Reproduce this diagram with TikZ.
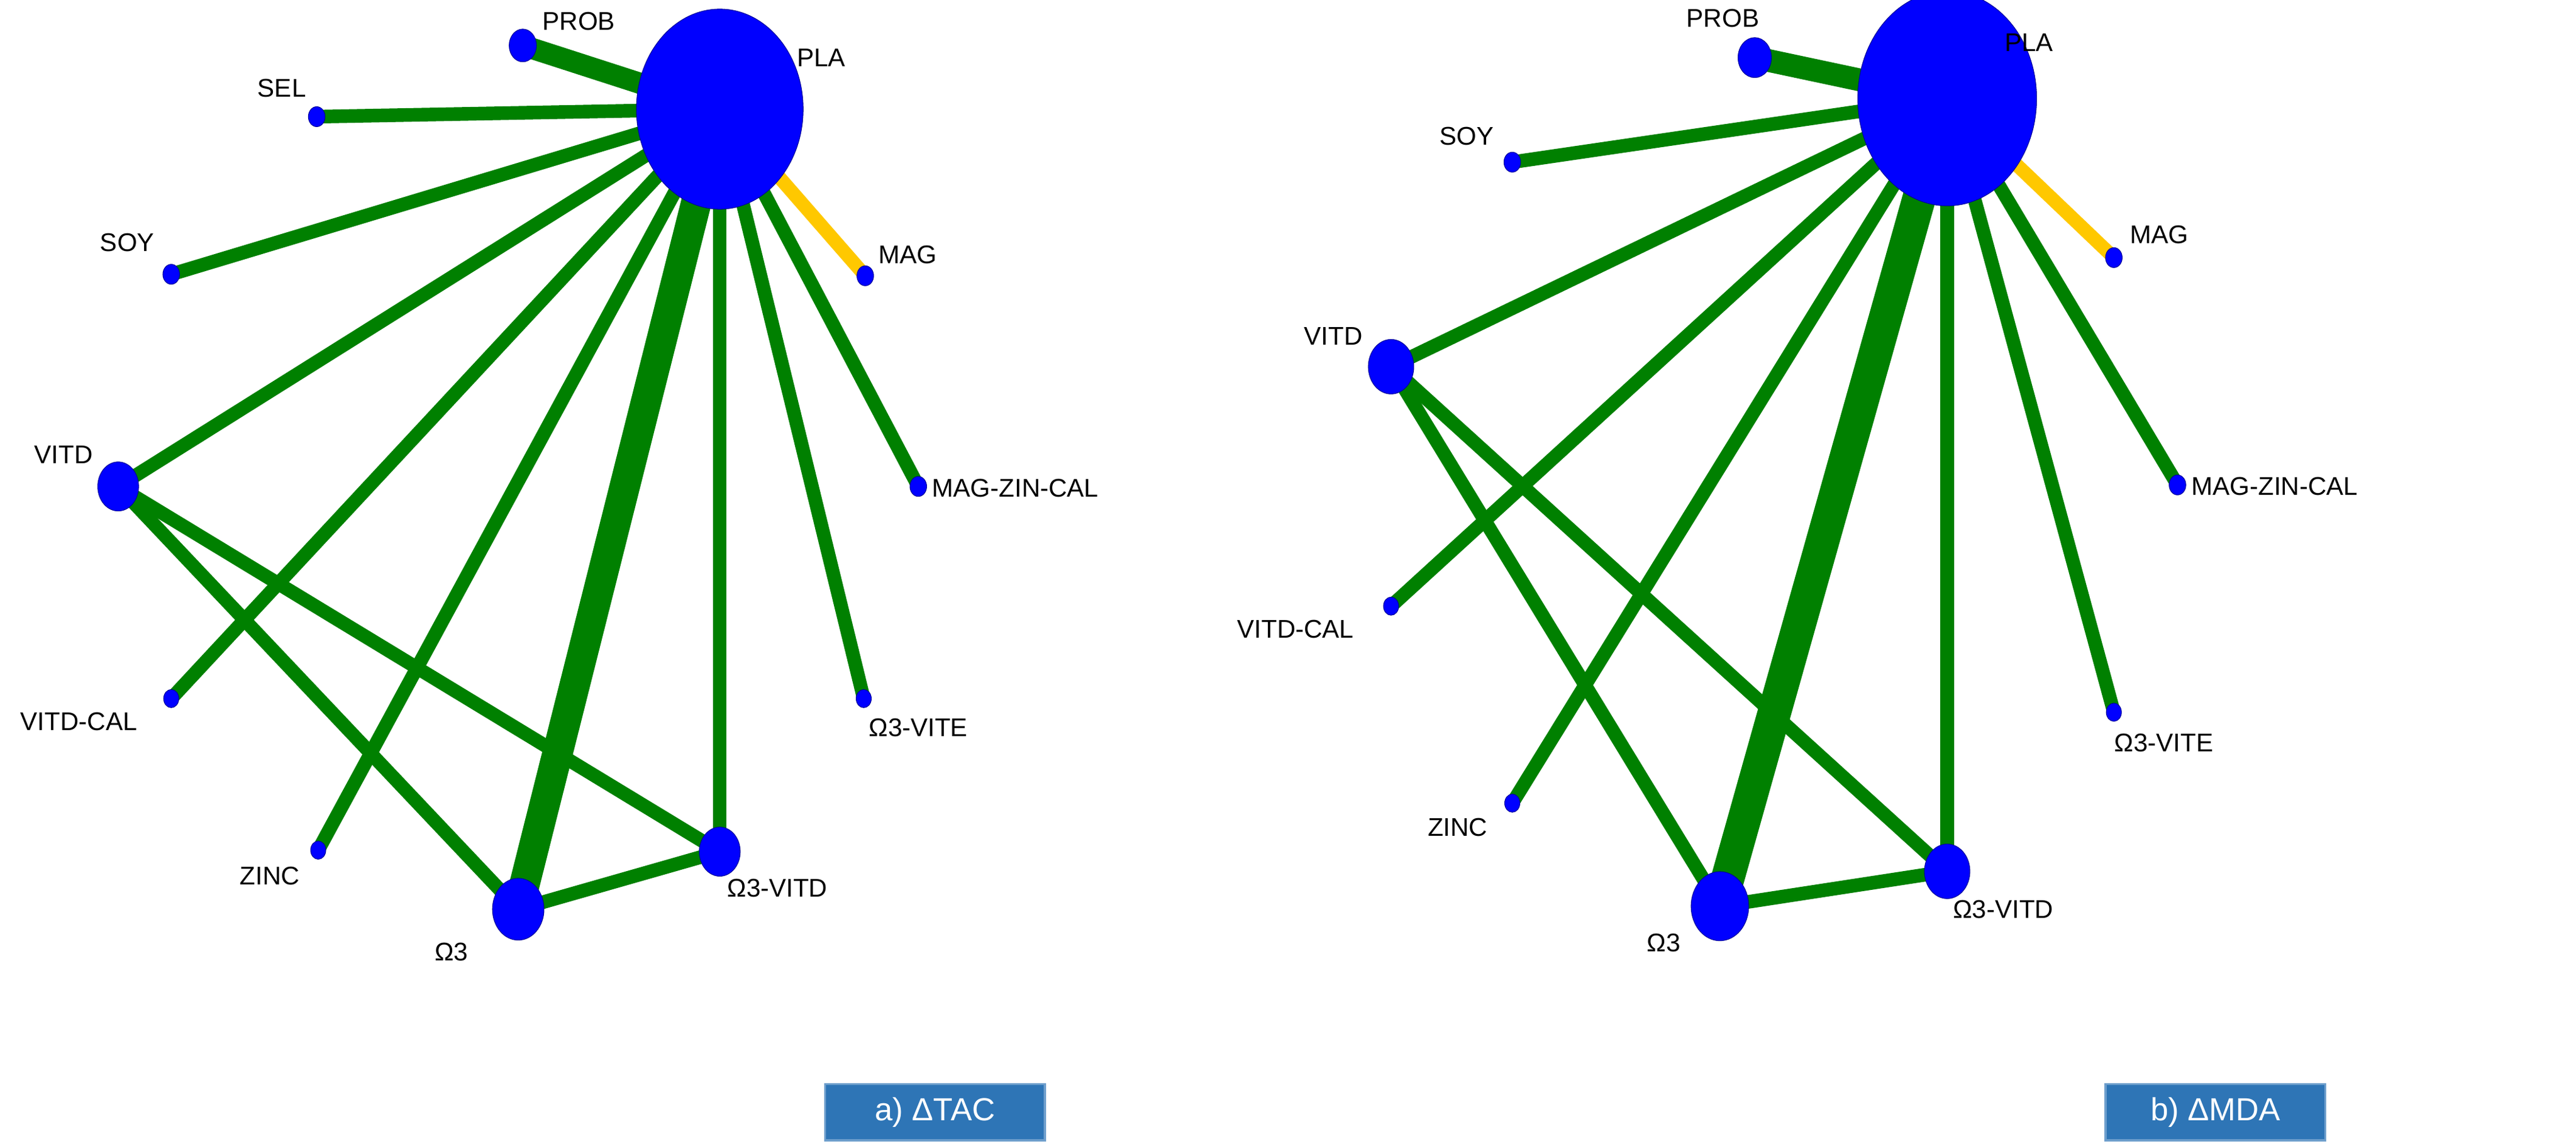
\documentclass[tikz,border=0pt]{standalone}
\usepackage{fontspec}
\setmainfont{Liberation Sans}
\usetikzlibrary{shapes.geometric}
\pgfdeclarelayer{bg}
\pgfsetlayers{bg,main}
\begin{document}
\definecolor{eg}{RGB}{0,128,0}
\definecolor{ey}{RGB}{255,200,0}
\definecolor{nb}{RGB}{0,0,255}
\definecolor{bx}{RGB}{46,117,182}
\begin{tikzpicture}[x=0.025cm,y=-0.025cm,
  nd/.style={ellipse,fill=nb,draw=nb!60!black,line width=0.3pt,inner sep=0pt,minimum width=#1*0.025cm,minimum height=#1*0.03cm},
  lb/.style={font=\fontsize{12}{14}\selectfont,inner sep=0pt},
  ed/.style={draw=eg,line width=#1*0.025cm},
  ey/.style={draw=ey,line width=#1*0.025cm},
  bx/.style={fill=bx,draw=bx!70!white,line width=1pt,text=white,font=\fontsize{15}{18}\selectfont,minimum width=145*0.025cm,minimum height=37*0.025cm}]
\useasboundingbox (0,0) rectangle (1700,754.6);
% ---- left panel nodes
\node[nd=110] (aPLA) at (475,72) {};
\node[nd=18] (aPROB) at (345,30) {};
\node[nd=11] (aSEL) at (209,77) {};
\node[nd=11] (aSOY) at (113,181) {};
\node[nd=11] (aMAG) at (571,182) {};
\node[nd=11] (aMZC) at (606,321) {};
\node[nd=27] (aVITD) at (78,321) {};
\node[nd=10] (aVC) at (113,461) {};
\node[nd=10] (aO3VE) at (570,461) {};
\node[nd=10] (aZINC) at (210,561) {};
\node[nd=27] (aO3VD) at (475,562) {};
\node[nd=34] (aO3) at (342,600) {};
% ---- right panel nodes
\node[nd=118] (bPLA) at (1285,65) {};
\node[nd=22] (bPROB) at (1158,38) {};
\node[nd=11] (bSOY) at (998,107) {};
\node[nd=11] (bMAG) at (1395,170) {};
\node[nd=11] (bMZC) at (1437,320) {};
\node[nd=30] (bVITD) at (918,242) {};
\node[nd=10] (bVC) at (918,400) {};
\node[nd=10] (bO3VE) at (1395,470) {};
\node[nd=10] (bZINC) at (998,530) {};
\node[nd=30] (bO3VD) at (1285,575) {};
\node[nd=38] (bO3) at (1135,598) {};
\begin{pgfonlayer}{bg}
% ---- edges left
\draw[ed=14] (aPLA.center) -- (aPROB.center);
\draw[ed=9] (aPLA.center) -- (aSEL.center);
\draw[ed=9] (aPLA.center) -- (aSOY.center);
\draw[ey=9] (aPLA.center) -- (aMAG.center);
\draw[ed=9] (aPLA.center) -- (aMZC.center);
\draw[ed=9] (aPLA.center) -- (aVITD.center);
\draw[ed=9] (aPLA.center) -- (aVC.center);
\draw[ed=9] (aPLA.center) -- (aZINC.center);
\draw[ed=20] (aPLA.center) -- (aO3.center);
\draw[ed=9] (aPLA.center) -- (aO3VD.center);
\draw[ed=9] (aPLA.center) -- (aO3VE.center);
\draw[ed=9] (aVITD.center) -- (aO3.center);
\draw[ed=9] (aVITD.center) -- (aO3VD.center);
\draw[ed=9] (aO3.center) -- (aO3VD.center);
% ---- edges right
\draw[ed=15] (bPLA.center) -- (bPROB.center);
\draw[ed=9] (bPLA.center) -- (bSOY.center);
\draw[ey=9] (bPLA.center) -- (bMAG.center);
\draw[ed=9] (bPLA.center) -- (bMZC.center);
\draw[ed=9] (bPLA.center) -- (bVITD.center);
\draw[ed=9] (bPLA.center) -- (bVC.center);
\draw[ed=9] (bPLA.center) -- (bZINC.center);
\draw[ed=22] (bPLA.center) -- (bO3.center);
\draw[ed=9] (bPLA.center) -- (bO3VD.center);
\draw[ed=9] (bPLA.center) -- (bO3VE.center);
\draw[ed=9] (bVITD.center) -- (bO3.center);
\draw[ed=9] (bVITD.center) -- (bO3VD.center);
\draw[ed=9] (bO3.center) -- (bO3VD.center);
\end{pgfonlayer}
% ---- labels left
\node[lb] (laPLA) at (542,38) {PLA};
\node[lb] (laPROB) at (382,14) {PROB};
\node[lb] (laSEL) at (186,58) {SEL};
\node[lb] (laSOY) at (84,160) {SOY};
\node[lb] (laMAG) at (599,168) {MAG};
\node[lb,anchor=west] (laMZC) at (615,322) {MAG-ZIN-CAL};
\node[lb] (laVITD) at (42,300) {VITD};
\node[lb] (laVC) at (52,476) {VITD-CAL};
\node[lb] (laO3VE) at (606,480) {Ω3-VITE};
\node[lb] (laZINC) at (178,578) {ZINC};
\node[lb] (laO3VD) at (513,586) {Ω3-VITD};
\node[lb] (laO3) at (298,628) {Ω3};
% ---- labels right
\node[lb] (lbPLA) at (1339,28) {PLA};
\node[lb] (lbPROB) at (1137,12) {PROB};
\node[lb] (lbSOY) at (968,90) {SOY};
\node[lb] (lbMAG) at (1425,155) {MAG};
\node[lb,anchor=west] (lbMZC) at (1446,321) {MAG-ZIN-CAL};
\node[lb] (lbVITD) at (880,222) {VITD};
\node[lb] (lbVC) at (855,415) {VITD-CAL};
\node[lb] (lbO3VE) at (1428,490) {Ω3-VITE};
\node[lb] (lbZINC) at (962,546) {ZINC};
\node[lb] (lbO3VD) at (1322,600) {Ω3-VITD};
\node[lb] (lbO3) at (1098,622) {Ω3};
% ---- boxes
\node[bx] (boxa) at (617,734) {a) ΔTAC};
\node[bx] (boxb) at (1462,734) {b) ΔMDA};
\end{tikzpicture}
\end{document}
